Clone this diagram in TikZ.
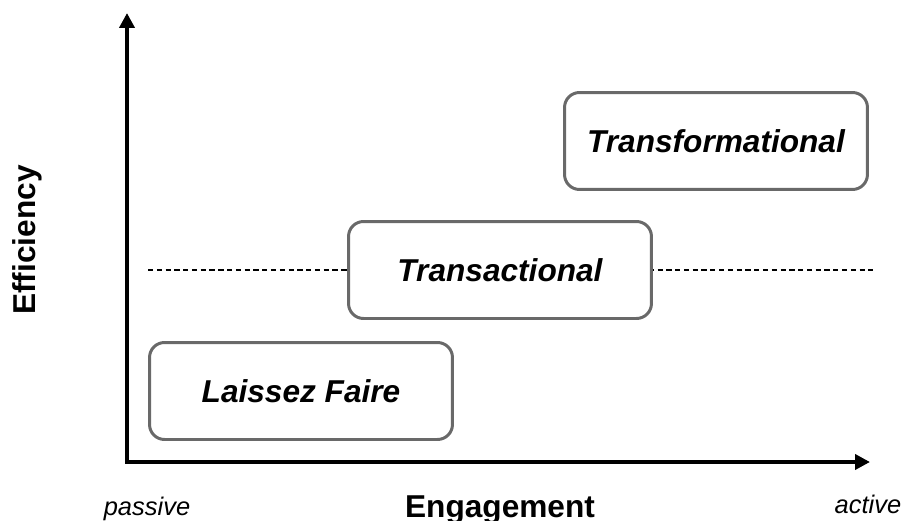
\documentclass[tikz,border=0pt]{standalone}
\usepackage{fontspec}
\setmainfont{Liberation Sans}
\usetikzlibrary{positioning, arrows.meta}
\definecolor{BoxGray}{RGB}{105, 105, 105}
\definecolor{AxisBlack}{RGB}{0, 0, 0}

\tikzset{
    axisline/.style={draw=AxisBlack, line width=2.2pt,
                     {Triangle[length=0.3cm, width=0.3cm]}-{Triangle[length=0.3cm, width=0.3cm]}},
    stylebox/.style={draw=BoxGray, fill=white, line width=1.7pt, rounded corners=0.3cm,
                     minimum width=6.06cm, minimum height=1.94cm,
                     font=\fontsize{18}{20}\selectfont\bfseries\itshape},
    axislabel/.style={font=\fontsize{18}{20}\selectfont\bfseries},
    endlabel/.style={font=\fontsize{14.5}{16}\selectfont\itshape, anchor=base}
}

\begin{document}
\begin{tikzpicture}[x=0.02cm, y=-0.02cm]
            \useasboundingbox (0,0) rectangle (904,521);
            % Axes
            \coordinate (origin) at (127,462);
            \coordinate (ytip) at (127,13);
            \coordinate (xtip) at (870,462);
            \draw[axisline] (xtip) -- (origin) -- (ytip);
            % Threshold line
            \coordinate (dashL) at (148,270);
            \coordinate (dashR) at (873,270);
            \draw[line width=0.6pt, dash pattern=on 3pt off 2pt] (dashL) -- (dashR);
            % Styles
            \node[stylebox] (laissez) at (301,391) {Laissez Faire};
            \node[stylebox] (transact) at (500,270) {Transactional};
            \node[stylebox] (transform) at (716,141) {Transformational};
            % Axis labels
            \node[axislabel, rotate=90] (efficiency) at (27,240) {Efficiency};
            \node[axislabel, anchor=base] (engagement) at (500,517) {Engagement};
            \node[endlabel] (passive) at (147,515) {passive};
            \node[endlabel] (active) at (868,513) {active};
        \end{tikzpicture}
\end{document}
